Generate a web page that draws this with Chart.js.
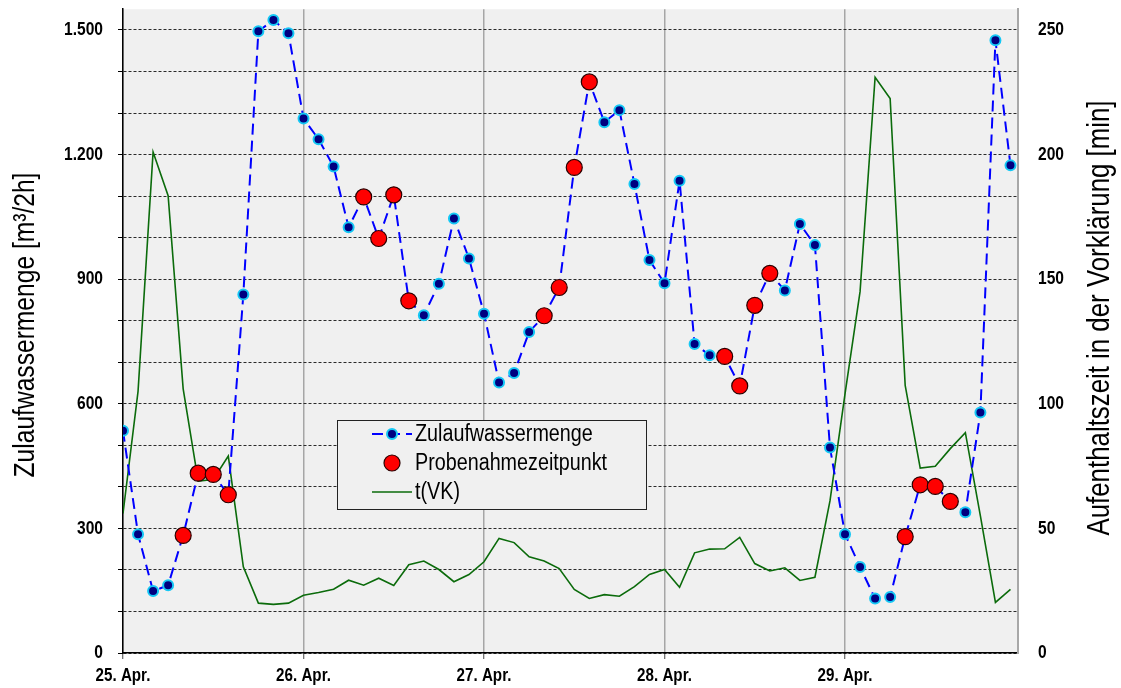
<!DOCTYPE html>
<html lang="de">
<head>
<meta charset="utf-8">
<title>Zulaufwassermenge und Aufenthaltszeit in der Vorklärung</title>
<script src="https://cdn.jsdelivr.net/npm/chart.js@4"></script>
<style>
  html, body { margin: 0; padding: 0; background: #ffffff; }
  canvas { display: block; }
</style>
</head>
<body>
<canvas id="diagramm" width="1121" height="688"></canvas>
<script>
// Messzeitpunkte in Stunden ab 25. Apr. 0:00 (2-h-Intervalle)
const stunden = [
  0, 2, 4, 6, 8, 10, 12, 14, 16, 18, 20, 22,
  24, 26, 28, 30, 32, 34, 36, 38, 40, 42, 44, 46,
  48, 50, 52, 54, 56, 58, 60, 62, 64, 66, 68, 70,
  72, 74, 76, 78, 80, 82, 84, 86, 88, 90, 92, 94,
  96, 98, 100, 102, 104, 106, 108, 110, 112, 114, 116, 118
];

// Zulaufwassermenge [m³/2h]
const zulauf = [
  535, 286, 149, 163, 283, 433, 430, 381, 863, 1497, 1524, 1492,
  1287, 1237, 1171, 1025, 1098, 998, 1103, 848, 813, 889, 1046, 950,
  817, 651, 674, 773, 812, 880, 1169, 1375, 1278, 1307, 1129, 946,
  890, 1137, 744, 717, 714, 643, 837, 914, 873, 1033, 982, 495,
  286, 207, 131, 135, 280, 405, 401, 365, 339, 579, 1475, 1174
];

// Aufenthaltszeit in der Vorklärung t(VK) [min]
const aufenthalt = [
  56, 105, 201, 183.5, 106, 69, 69.6, 79, 34.6, 20, 19.5, 20,
  23.2, 24.3, 25.6, 29.2, 27.2, 30, 27.1, 35.4, 36.9, 33.5, 28.6, 31.5,
  36.6, 46, 44.3, 38.6, 36.9, 33.9, 25.5, 21.9, 23.4, 22.8, 26.6, 31.5,
  33.5, 26.4, 40.2, 41.7, 41.8, 46.4, 35.9, 32.9, 34.2, 29.1, 30.4, 61,
  104, 145, 231, 222.5, 107.4, 74.2, 74.9, 82, 88.4, 55, 20.3, 25.5
];

// Probenahmezeitpunkte [h]
const probeStunden = [8, 10, 12, 14, 32, 34, 36, 38, 56, 58, 60, 62, 80, 82, 84, 86, 104, 106, 108, 110];

// Achsenbeschriftung
const tage = ['25. Apr.', '26. Apr.', '27. Apr.', '28. Apr.', '29. Apr.'];
const linksTicks = [0, 300, 600, 900, 1200, 1500];
const rechtsTicks = [0, 50, 100, 150, 200, 250];
const titelLinks = 'Zulaufwassermenge [m³/2h]';
const titelRechts = 'Aufenthaltszeit in der Vorklärung [min]';

// schmale Schrift: Liberation Sans, horizontal gestaucht
const SCHRIFT = '"Liberation Sans", Arial, sans-serif';
const STAUCHUNG = 0.82;

const punkte = (xs, ys) => xs.map((x, i) => ({ x: x, y: ys[i] }));
const probePunkte = probeStunden.map(h => ({ x: h, y: zulauf[stunden.indexOf(h)] }));

function tausender(v) {
  return String(v).replace(/\B(?=(\d{3})+(?!\d))/g, '.');
}

function schmalerText(c, text, x, y, opt) {
  c.save();
  c.translate(x, y);
  if (opt.drehen) c.rotate(-Math.PI / 2);
  c.scale(opt.stauchung || STAUCHUNG, 1);
  c.font = (opt.fett ? 'bold ' : '') + opt.groesse + 'px ' + SCHRIFT;
  c.fillStyle = opt.farbe || '#000';
  c.textAlign = opt.ausrichtung || 'left';
  c.textBaseline = 'middle';
  c.fillText(text, 0, 0);
  c.restore();
}

// Hintergrund der Zeichenfläche
const flaeche = {
  id: 'flaeche',
  beforeDraw(chart) {
    const a = chart.chartArea, c = chart.ctx;
    c.save();
    c.fillStyle = '#f0f0f0';
    c.fillRect(a.left, a.top, a.right - a.left, a.bottom - a.top);
    c.restore();
  }
};

// Skalenbeschriftung und Achsentitel
const beschriftung = {
  id: 'beschriftung',
  afterDraw(chart) {
    const c = chart.ctx;
    const sx = chart.scales.x, sl = chart.scales.yL, sr = chart.scales.yR;
    linksTicks.forEach(v => schmalerText(c, tausender(v), 103, sl.getPixelForValue(v), { groesse: 19, fett: true, ausrichtung: 'right' }));
    rechtsTicks.forEach(v => schmalerText(c, String(v), 1038, sr.getPixelForValue(v), { groesse: 19, fett: true, ausrichtung: 'left' }));
    tage.forEach((t, i) => schmalerText(c, t, sx.getPixelForValue(i * 24), 676, { groesse: 18.5, fett: true, ausrichtung: 'center' }));
    schmalerText(c, titelLinks, 26, 325, { groesse: 30, ausrichtung: 'center', drehen: true });
    schmalerText(c, titelRechts, 1100, 318, { groesse: 31.5, ausrichtung: 'center', drehen: true });
  }
};

// Legende im Diagramm
const legendeBox = {
  id: 'legendeBox',
  afterDraw(chart) {
    const c = chart.ctx;
    const ds = chart.data.datasets;
    const x0 = 337, y0 = 420, w = 309, h = 89;
    c.save();
    c.fillStyle = '#f0f0f0';
    c.fillRect(x0, y0, w, h);
    c.strokeStyle = '#222';
    c.lineWidth = 1;
    c.strokeRect(x0 + 0.5, y0 + 0.5, w, h);
    const zeilen = [
      { y: 434, d: ds[1], art: 'linieMitPunkt' },
      { y: 463, d: ds[0], art: 'punkt' },
      { y: 492, d: ds[2], art: 'linie' }
    ];
    zeilen.forEach(z => {
      const d = z.d;
      if (z.art !== 'punkt') {
        c.save();
        c.strokeStyle = d.borderColor;
        c.lineWidth = d.borderWidth;
        c.setLineDash(d.borderDash || []);
        c.beginPath();
        c.moveTo(372, z.y);
        c.lineTo(412, z.y);
        c.stroke();
        c.restore();
      }
      if (z.art !== 'linie') {
        c.save();
        c.beginPath();
        c.arc(392, z.y, d.pointRadius, 0, Math.PI * 2);
        c.fillStyle = d.pointBackgroundColor;
        c.fill();
        c.lineWidth = d.pointBorderWidth;
        c.strokeStyle = d.pointBorderColor;
        c.stroke();
        c.restore();
      }
      schmalerText(c, d.label, 415, z.y + 1, { groesse: 23.5, stauchung: 0.84 });
    });
    c.restore();
  }
};

new Chart(document.getElementById('diagramm'), {
  type: 'line',
  data: {
    datasets: [
      {
        label: 'Probenahmezeitpunkt',
        data: probePunkte,
        yAxisID: 'yL',
        showLine: false,
        pointRadius: 8,
        pointBackgroundColor: '#ff0000',
        pointBorderColor: '#2a0000',
        pointBorderWidth: 1.2,
        borderColor: '#ff0000',
        order: 0
      },
      {
        label: 'Zulaufwassermenge',
        data: punkte(stunden, zulauf),
        yAxisID: 'yL',
        borderColor: '#0000ff',
        borderWidth: 2,
        borderDash: [11, 6],
        tension: 0,
        pointRadius: 5,
        pointBackgroundColor: '#000080',
        pointBorderColor: '#14c8f5',
        pointBorderWidth: 2,
        order: 1
      },
      {
        label: 't(VK)',
        data: punkte(stunden, aufenthalt),
        yAxisID: 'yR',
        borderColor: '#0b6b0b',
        borderWidth: 1.6,
        tension: 0,
        pointRadius: 0,
        order: 2
      }
    ]
  },
  options: {
    responsive: false,
    devicePixelRatio: 1,
    animation: false,
    layout: { padding: { top: 8, left: 0, right: 0, bottom: 0 } },
    plugins: {
      legend: { display: false },
      tooltip: { enabled: false }
    },
    scales: {
      x: {
        type: 'linear',
        min: 0,
        max: 119,
        afterBuildTicks(s) { s.ticks = tage.map((t, i) => ({ value: i * 24 })); },
        afterFit(s) { s.height = 35; s.paddingLeft = 0; s.paddingRight = 0; },
        ticks: { display: false },
        grid: {
          color: '#a6a6a6',
          lineWidth: 1.5,
          drawTicks: true,
          tickLength: 6,
          tickColor: '#444',
          tickWidth: 1
        },
        border: { display: true, color: '#000', width: 1.5 }
      },
      yL: {
        type: 'linear',
        position: 'left',
        min: 0,
        max: 1550,
        afterBuildTicks(s) {
          const t = [];
          for (let v = 0; v <= 1500; v += 100) t.push({ value: v });
          s.ticks = t;
        },
        afterFit(s) { s.width = 123; s.paddingTop = 0; s.paddingBottom = 0; },
        ticks: { display: false },
        grid: {
          color: '#2a2a2a',
          lineWidth: 1,
          drawTicks: true,
          tickLength: 5,
          tickColor: '#000',
          tickBorderDash: [1, 0]
        },
        border: { display: true, color: '#000', width: 1.5, dash: [3, 2] }
      },
      yR: {
        type: 'linear',
        position: 'right',
        min: 0,
        max: 1550 / 6,
        afterBuildTicks(s) { s.ticks = rechtsTicks.map(v => ({ value: v })); },
        afterFit(s) { s.width = 103; s.paddingTop = 0; s.paddingBottom = 0; },
        ticks: { display: false },
        grid: { drawOnChartArea: false, drawTicks: false },
        border: { display: true, color: '#a8a8a8', width: 2 }
      }
    }
  },
  plugins: [flaeche, beschriftung, legendeBox]
});
</script>
</body>
</html>
